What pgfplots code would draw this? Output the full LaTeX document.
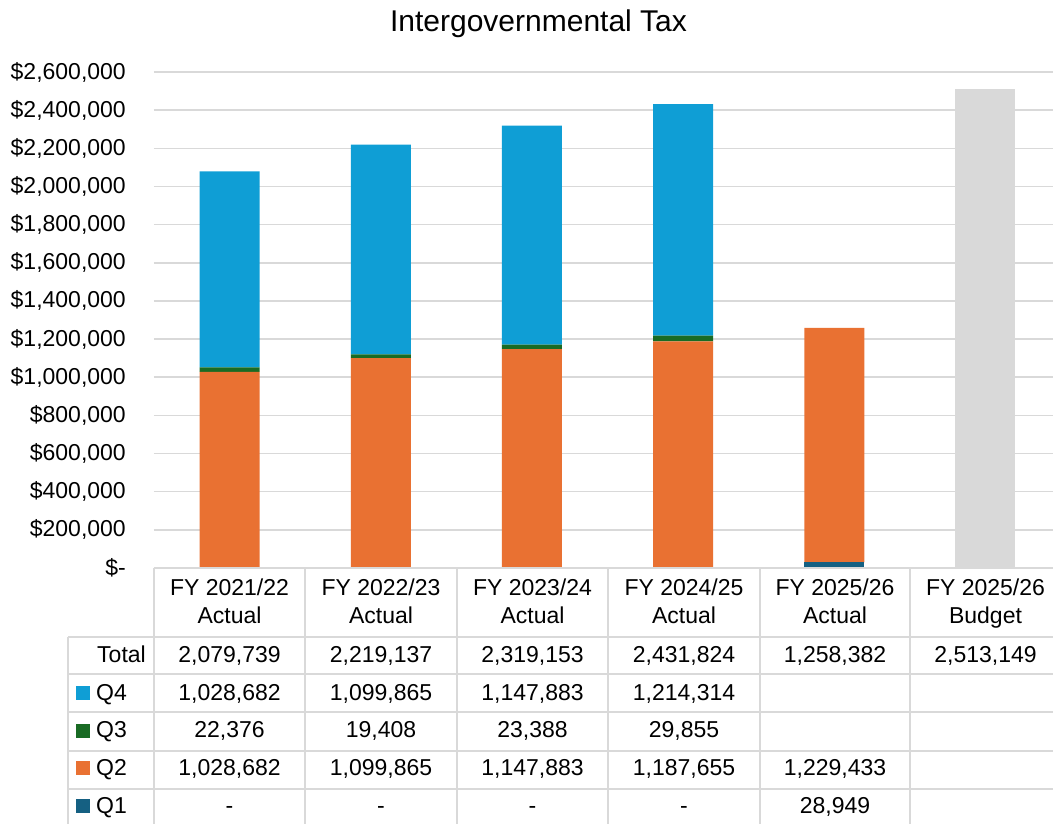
\documentclass[border=0pt]{standalone}
\usepackage{fontspec}
\setmainfont{Liberation Sans}
\usepackage{pgfplots}
\pgfplotsset{compat=1.18}
\definecolor{qone}{HTML}{156082}
\definecolor{qtwo}{HTML}{E97132}
\definecolor{qthree}{HTML}{196B24}
\definecolor{qfour}{HTML}{0F9ED5}
\definecolor{budgetc}{HTML}{D9D9D9}
\definecolor{gridc}{HTML}{D9D9D9}
\newcommand{\tabfont}{\fontsize{23}{28}\selectfont}
\begin{document}
\begin{tikzpicture}
\useasboundingbox (0pt,0pt) rectangle (1053pt,-824pt);
\begin{axis}[
  at={(154pt,-568pt)}, anchor=south west,
  scale only axis, width=899pt, height=496pt,
  xmin=-0.5, xmax=5.447, ymin=0, ymax=2600000,
  ybar stacked, bar width=60pt,
  axis line style={draw=none}, tick style={draw=none},
  xtick=\empty, scaled y ticks=false,
  ytick={0,200000,400000,600000,800000,1000000,1200000,1400000,1600000,1800000,2000000,2200000,2400000,2600000},
  yticklabels={{\$-},{\$200,000},{\$400,000},{\$600,000},{\$800,000},{\$1,000,000},{\$1,200,000},{\$1,400,000},{\$1,600,000},{\$1,800,000},{\$2,000,000},{\$2,200,000},{\$2,400,000},{\$2,600,000}},
  yticklabel style={font=\tabfont, anchor=east, inner sep=0pt, xshift=-28pt},
  ymajorgrids, grid style={draw=gridc, line width=1.5pt},
  clip=false,
]
\addplot[fill=qone, draw=none] coordinates {(0,0) (1,0) (2,0) (3,0) (4,28949) (5,0)};
\addplot[fill=qtwo, draw=none] coordinates {(0,1028682) (1,1099865) (2,1147883) (3,1187655) (4,1229433) (5,0)};
\addplot[fill=qthree, draw=none] coordinates {(0,22376) (1,19408) (2,23388) (3,29855) (4,0) (5,0)};
\addplot[fill=qfour, draw=none] coordinates {(0,1028682) (1,1099865) (2,1147883) (3,1214314) (4,0) (5,0)};
\addplot[fill=budgetc, draw=none] coordinates {(0,0) (1,0) (2,0) (3,0) (4,0) (5,2513149)};
\end{axis}
\begin{scope}[x=1pt,y=-1pt]
  \node[anchor=base, inner sep=0pt] at (538.5,32) {\fontsize{30}{36}\selectfont Intergovernmental Tax};
  \begin{scope}[draw=gridc, line width=1.5pt]
    \draw (154,568) -- (1053,568);
    \foreach \yy in {637,674,712,751,789} {\draw (68,\yy) -- (1053,\yy);}
    \foreach \xx in {154,305,457,608,760,910} {\draw (\xx,568) -- (\xx,824);}
    \draw (68,637) -- (68,824);
  \end{scope}
  \foreach \cx/\la/\lb in {229.5/FY 2021\slash 22/Actual, 381/FY 2022\slash 23/Actual, 532.5/FY 2023\slash 24/Actual, 684/FY 2024\slash 25/Actual, 835/FY 2025\slash 26/Actual, 985.5/FY 2025\slash 26/Budget} {
    \node[anchor=base, inner sep=0pt] at (\cx,595) {\tabfont \la};
    \node[anchor=base, inner sep=0pt] at (\cx,623) {\tabfont \lb};
  }
  \node[anchor=base east, inner sep=0pt] at (146,662) {\tabfont Total};
  \fill[qfour] (76,686) rectangle (90,700);
  \node[anchor=base west, inner sep=0pt] at (96,700) {\tabfont Q4};
  \fill[qthree] (76,723.5) rectangle (90,737.5);
  \node[anchor=base west, inner sep=0pt] at (96,737.5) {\tabfont Q3};
  \fill[qtwo] (76,761) rectangle (90,775);
  \node[anchor=base west, inner sep=0pt] at (96,775) {\tabfont Q2};
  \fill[qone] (76,799) rectangle (90,813);
  \node[anchor=base west, inner sep=0pt] at (96,813) {\tabfont Q1};
  \foreach \cx/\vT/\vA/\vB/\vC/\vD in {
    229.5/{2,079,739}/{1,028,682}/{22,376}/{1,028,682}/{-},
    381/{2,219,137}/{1,099,865}/{19,408}/{1,099,865}/{-},
    532.5/{2,319,153}/{1,147,883}/{23,388}/{1,147,883}/{-},
    684/{2,431,824}/{1,214,314}/{29,855}/{1,187,655}/{-},
    835/{1,258,382}/{}/{}/{1,229,433}/{28,949},
    985.5/{2,513,149}/{}/{}/{}/{}} {
    \node[anchor=base, inner sep=0pt] at (\cx,662) {\tabfont \vT};
    \node[anchor=base, inner sep=0pt] at (\cx,700) {\tabfont \vA};
    \node[anchor=base, inner sep=0pt] at (\cx,737.5) {\tabfont \vB};
    \node[anchor=base, inner sep=0pt] at (\cx,775) {\tabfont \vC};
    \node[anchor=base, inner sep=0pt] at (\cx,813) {\tabfont \vD};
  }
\end{scope}
\end{tikzpicture}
\end{document}
